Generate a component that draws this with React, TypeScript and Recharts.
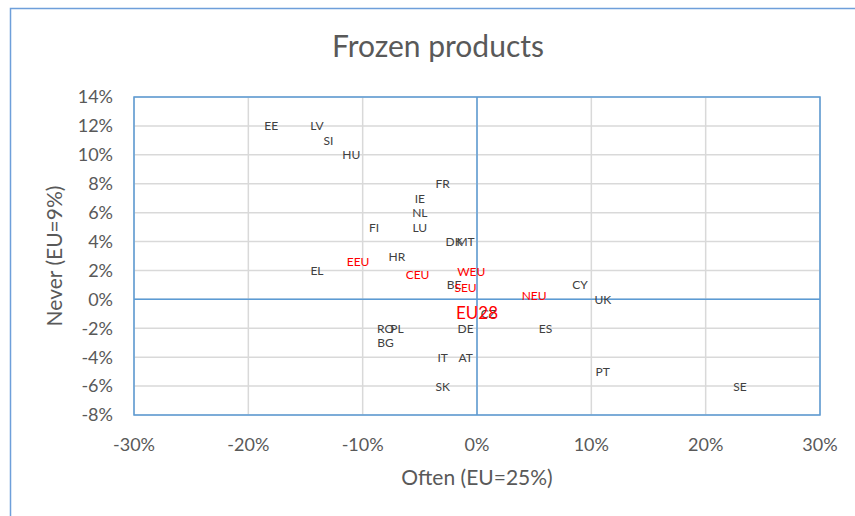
import React from 'react';
import {
  ScatterChart,
  Scatter,
  XAxis,
  YAxis,
  CartesianGrid,
  ReferenceLine,
  ReferenceArea,
} from 'recharts';

// Country codes and their deviation from the EU average (percentage points)
const countries = ['EE', 'LV', 'SI', 'HU', 'FR', 'IE', 'NL', 'LU', 'FI', 'DK', 'MT', 'HR', 'EL', 'BE', 'CY', 'UK', 'CZ', 'RO', 'PL', 'BG', 'DE', 'ES', 'IT', 'AT', 'PT', 'SK', 'SE'];
const countryOften = [-18, -14, -13, -11, -3, -5, -5, -5, -9, -2, -1, -7, -14, -2, 9, 11, 1, -8, -7, -8, -1, 6, -3, -1, 11, -3, 23];
const countryNever = [12, 12, 11, 10, 8, 7, 6, 5, 5, 4, 4, 3, 2, 1, 1, 0, -1, -2, -2, -3, -2, -2, -4, -4, -5, -6, -6];

const regions = ['EEU', 'CEU', 'WEU', 'SEU', 'NEU'];
const regionOften = [-10.4, -5.2, -0.5, -1, 5];
const regionNever = [2.6, 1.7, 1.9, 0.8, 0.3];

const euName = ['EU28'];
const euOften = [0];
const euNever = [0];

const xTicks = [-30, -20, -10, 0, 10, 20, 30];
const yTicks = [-8, -6, -4, -2, 0, 2, 4, 6, 8, 10, 12, 14];

const countryData = countries.map((name, i) => ({ name, x: countryOften[i], y: countryNever[i] }));
const regionData = regions.map((name, i) => ({ name, x: regionOften[i], y: regionNever[i] }));
const euData = euName.map((name, i) => ({ name, x: euOften[i], y: euNever[i] }));

const FONT = 'Lato, "DejaVu Sans", sans-serif';
const BLUE = '#5B9BD5';

const makeShape = (color: string, size: number, dyPx: number) => (props: any) => {
  const { cx, cy, payload } = props;
  if (cx == null || cy == null) return <g />;
  return (
    <text
      x={cx}
      y={cy + dyPx}
      textAnchor="middle"
      dominantBaseline="central"
      fill={color}
      fontSize={size}
      fontFamily={FONT}
    >
      {payload.name}
    </text>
  );
};

export default function App() {
  const W = 855;
  const H = 516;
  return (
    <div style={{ position: 'absolute', left: 0, top: 0, width: W, height: H, overflow: 'hidden', background: '#fff' }}>
      <svg width={W} height={H} style={{ position: 'absolute', left: 0, top: 0 }}>
        <rect x={10.5} y={8.5} width={900} height={600} fill="#fff" stroke="#6E9FDA" strokeWidth={1.5} />
      </svg>
      <div style={{ position: 'absolute', left: 0, top: 0 }}>
        <ScatterChart
          width={W}
          height={H}
          margin={{ top: 97, right: 35, bottom: 20, left: 74 }}
        >
          <CartesianGrid stroke="#D9D9D9" strokeWidth={1.5} />
          <XAxis
            type="number"
            dataKey="x"
            domain={[-30, 30]}
            ticks={xTicks}
            interval={0}
            tickFormatter={(v: number) => `${v}%`}
            axisLine={false}
            tickLine={false}
            tickMargin={17}
            height={81}
            tick={{ fill: '#595959', fontSize: 18, fontFamily: FONT }}
          />
          <YAxis
            type="number"
            dataKey="y"
            domain={[-8, 14]}
            ticks={yTicks}
            interval={0}
            tickFormatter={(v: number) => `${v}%`}
            axisLine={false}
            tickLine={false}
            tickMargin={15}
            width={60}
            tick={{ fill: '#595959', fontSize: 18, fontFamily: FONT }}
          />
          <ReferenceLine x={0} stroke={BLUE} strokeWidth={1.5} />
          <ReferenceLine y={0} stroke={BLUE} strokeWidth={1.5} />
          <ReferenceArea x1={-30} x2={30} y1={-8} y2={14} fill="none" stroke={BLUE} strokeWidth={1.5} fillOpacity={0} />
          <Scatter data={countryData} isAnimationActive={false} shape={makeShape('#404040', 12, 0)} />
          <Scatter data={regionData} isAnimationActive={false} shape={makeShape('#FF0000', 12, 0)} />
          <Scatter data={euData} isAnimationActive={false} shape={makeShape('#FF0000', 17, 13)} />
        </ScatterChart>
      </div>
      <svg width={W} height={H} style={{ position: 'absolute', left: 0, top: 0, pointerEvents: 'none' }}>
        <text x={438} y={57} textAnchor="middle" fill="#595959" fontSize={30} fontFamily={FONT}>
          Frozen products
        </text>
        <text x={477} y={485} textAnchor="middle" fill="#595959" fontSize={21} fontFamily={FONT}>
          Often (EU=25%)
        </text>
        <text
          x={0}
          y={0}
          transform="translate(62 256) rotate(-90)"
          textAnchor="middle"
          fill="#595959"
          fontSize={21}
          fontFamily={FONT}
        >
          Never (EU=9%)
        </text>
      </svg>
    </div>
  );
}
